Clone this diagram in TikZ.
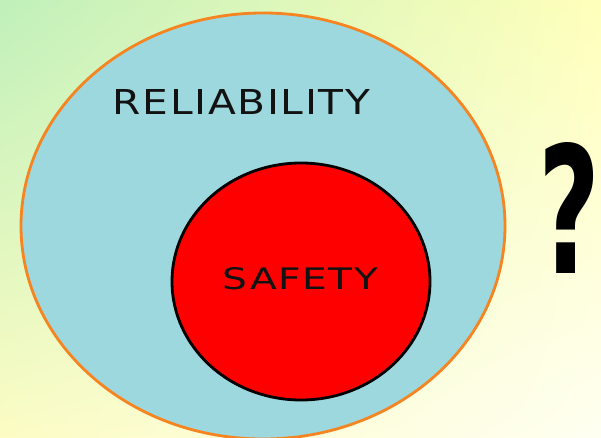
\documentclass[tikz,border=0pt]{standalone}
\usepackage{fontspec}
\setsansfont{DejaVu Sans}
\usepackage{graphicx}
\usetikzlibrary{shadings}
\definecolor{bgGreen}{RGB}{192,240,186}
\definecolor{bgYellow}{RGB}{255,255,186}
\definecolor{bgLow}{RGB}{252,252,196}
\definecolor{bgCream}{RGB}{255,255,242}
\definecolor{relBlue}{RGB}{156,216,222}
\definecolor{relEdge}{RGB}{246,132,32}

\begin{document}
\begin{tikzpicture}[x=1pt,y=-1pt]
			%%%%% START %%%%%
			\useasboundingbox (0,0) rectangle (601,438);
			\shade[upper left=bgGreen, upper right=bgYellow, lower left=bgLow, lower right=bgCream] (0,0) rectangle (601,438);
			
			\draw[line width=2.8pt, color=relEdge, fill=relBlue] (263,226) ellipse [x radius=242, y radius=213];
			\draw[line width=2.8pt, fill=red] (301,281.5) ellipse [x radius=129, y radius=118.5];
			
			\node[inner sep=0pt, text=black!93] (reliability) at (241.5,102.5) {\resizebox{257pt}{25pt}{\sffamily\addfontfeatures{LetterSpace=4}RELIABILITY}};
			\node[inner sep=0pt, text=black!93] (safety) at (300.5,279) {\resizebox{155pt}{22pt}{\sffamily\addfontfeatures{LetterSpace=4}SAFETY}};
			\node[inner sep=0pt] (question) at (569.5,207.5) {\resizebox{62pt}{131pt}{\sffamily\bfseries ?}};
			%%%%% END %%%%%
\end{tikzpicture}
\end{document}
